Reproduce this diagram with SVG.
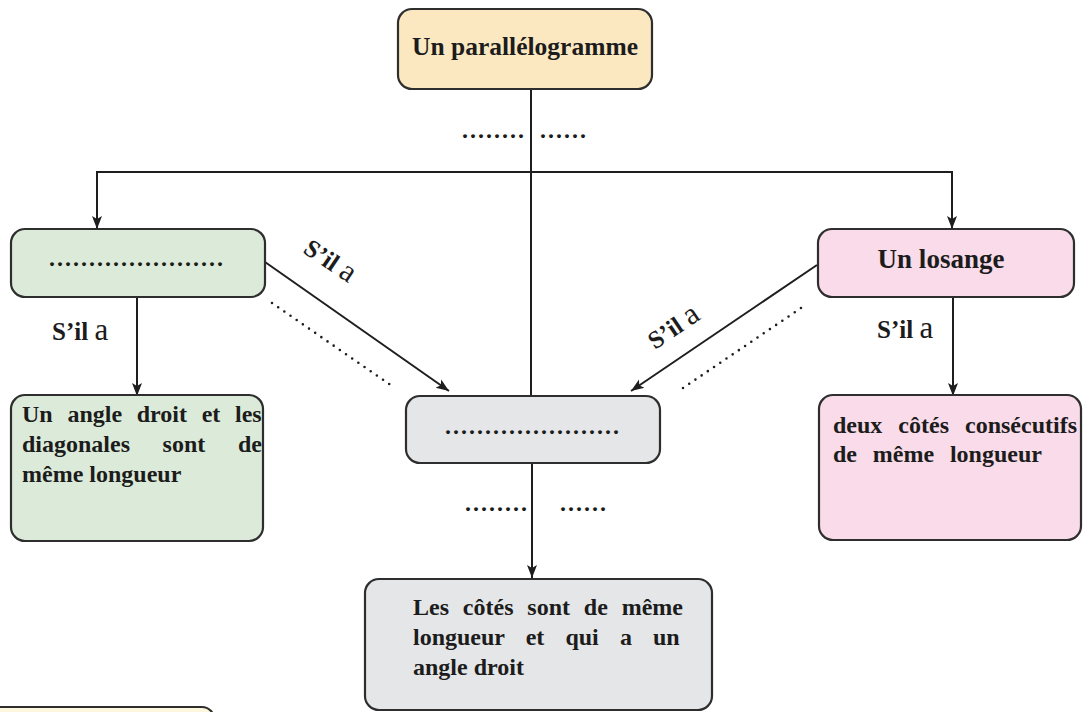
<svg xmlns="http://www.w3.org/2000/svg" width="1085" height="712" viewBox="0 0 1085 712">
<defs>
<marker id="arr" markerUnits="userSpaceOnUse" markerWidth="14" markerHeight="12" refX="13" refY="6" orient="auto">
<path d="M0,1 L13,6 L0,11 L3,6 Z" fill="#1e1e1e"/>
</marker>
</defs>
<style>
.box{stroke:#2e2e2e;stroke-width:2.2}
.t{font-family:"Liberation Serif","Times New Roman",serif;font-weight:bold;font-size:24px;fill:#1c1c1c}
.c{stroke:#1e1e1e;stroke-width:2;fill:none}
.dl{stroke:#1e1e1e;stroke-width:2.6;stroke-dasharray:0 7.5;stroke-linecap:round;fill:none}
.dots{font-family:"Liberation Serif","Times New Roman",serif;font-weight:bold;font-size:24px;fill:#1c1c1c;letter-spacing:2px}
.lab{font-family:"Liberation Serif","Times New Roman",serif;font-size:25px;fill:#1c1c1c}
.la{font-size:31px;font-weight:normal}
</style>
<rect width="1085" height="712" fill="#ffffff"/>
<g id="connectors">
<line class="c" x1="531" y1="90" x2="531" y2="396"/>
<polyline class="c" points="97,229 97,172 952,172 952,229" marker-end="url(#arr)"/>
<line class="c" x1="97" y1="172" x2="97" y2="229" marker-end="url(#arr)"/>
<line class="c" x1="137" y1="297" x2="137" y2="396" marker-end="url(#arr)"/>
<line class="c" x1="953" y1="297" x2="953" y2="396" marker-end="url(#arr)"/>
<line class="c" x1="532" y1="463" x2="532" y2="578" marker-end="url(#arr)"/>
<line class="c" x1="265" y1="262" x2="449" y2="391" marker-end="url(#arr)"/>
<line class="c" x1="817" y1="265" x2="631" y2="391" marker-end="url(#arr)"/>
<line class="dl" x1="272" y1="303" x2="392" y2="386"/>
<line class="dl" x1="683" y1="388" x2="804" y2="306"/>
<text class="dots" x="462" y="138">........</text>
<text class="dots" x="540" y="138">......</text>
<text class="dots" x="465" y="511">........</text>
<text class="dots" x="560" y="511">......</text>
<text class="lab" x="52" y="340"><tspan font-weight="bold">S’il</tspan> <tspan class="la">a</tspan></text>
<text class="lab" x="877" y="338"><tspan font-weight="bold">S’il</tspan> <tspan class="la">a</tspan></text>
<text class="lab" transform="translate(302,252) rotate(34)"><tspan font-weight="bold">S’il</tspan>  <tspan class="la">a</tspan></text>
<text class="lab" transform="translate(655,350) rotate(-34)"><tspan font-weight="bold">S’il</tspan>  <tspan class="la">a</tspan></text>
</g>
<g id="node-parallelogramme">
<rect class="box" x="398" y="9" width="254" height="80" rx="14" fill="#fbe8c1"/>
<text class="t" x="525" y="55" text-anchor="middle" style="font-size:25.5px">Un parallélogramme</text>
</g>
<g id="node-rectangle">
<rect class="box" x="11" y="229" width="254" height="68" rx="14" fill="#dcebd9"/>
<text class="dots" x="49" y="266">......................</text>
</g>
<g id="node-losange">
<rect class="box" x="818" y="229" width="256" height="68" rx="14" fill="#f9dbe9"/>
<text class="t" x="941" y="268" text-anchor="middle" style="font-size:27px">Un losange</text>
</g>
<g id="node-carre">
<rect class="box" x="406" y="396" width="254" height="67" rx="14" fill="#e5e6e8"/>
<text class="dots" x="445" y="434">......................</text>
</g>
<g id="node-rect-prop">
<rect class="box" x="11" y="395" width="252" height="146" rx="14" fill="#dcebd9"/>
<text class="t" x="22" y="422" word-spacing="8.7">Un angle droit et les</text>
<text class="t" x="22" y="452" word-spacing="26.6">diagonales sont de</text>
<text class="t" x="22" y="482">même longueur</text>
</g>
<g id="node-losange-prop">
<rect class="box" x="819" y="395" width="262" height="145" rx="14" fill="#f9dbe9"/>
<text class="t" x="833" y="433" word-spacing="10">deux côtés consécutifs</text>
<text class="t" x="833" y="462" word-spacing="9.8">de même longueur</text>
</g>
<g id="node-carre-prop">
<rect class="box" x="365" y="579" width="347" height="131" rx="14" fill="#e5e6e8"/>
<text class="t" x="413" y="615" word-spacing="7.85">Les côtés sont de même</text>
<text class="t" x="413" y="645" word-spacing="15.1">longueur et qui a un</text>
<text class="t" x="413" y="675">angle droit</text>
</g>
<g id="node-partial">
<rect class="box" x="-20" y="707" width="234" height="40" rx="12" fill="#fdf7de"/>
</g>
</svg>
